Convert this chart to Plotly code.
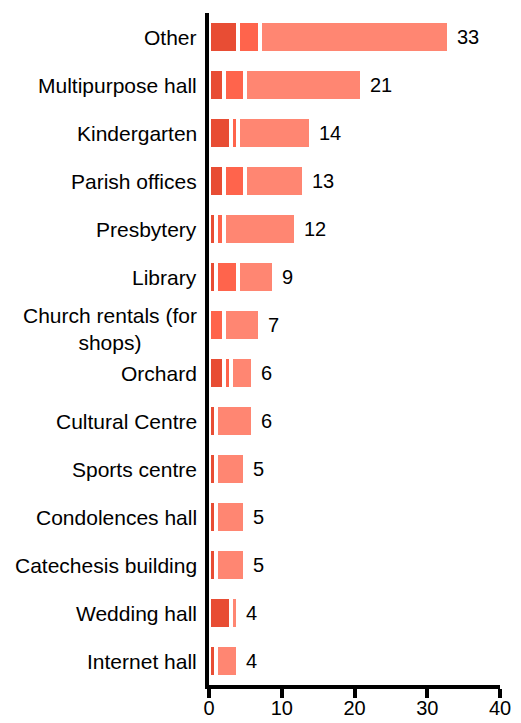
import plotly.graph_objects as go

# facility counts, split into three shades (dark / mid / light)
categories = [
    "Other",
    "Multipurpose hall",
    "Kindergarten",
    "Parish offices",
    "Presbytery",
    "Library",
    "Church rentals (for<br>shops)",
    "Orchard",
    "Cultural Centre",
    "Sports centre",
    "Condolences hall",
    "Catechesis building",
    "Wedding hall",
    "Internet hall",
]
dark = [4, 2, 3, 2, 1, 1, 0, 2, 1, 1, 1, 1, 3, 1]
mid = [3, 3, 1, 3, 1, 3, 2, 1, 0, 0, 0, 0, 0, 0]
light = [26, 16, 10, 8, 10, 5, 5, 3, 5, 4, 4, 4, 1, 3]
totals = [d + m + l for d, m, l in zip(dark, mid, light)]

colors = ["#e84d34", "#ff644c", "#ff8672"]
font = "Liberation Sans, Arial, sans-serif"

fig = go.Figure()
for vals, col in zip([dark, mid, light], colors):
    fig.add_trace(
        go.Bar(
            x=vals,
            y=categories,
            orientation="h",
            marker=dict(color=col, line=dict(color="white", width=4)),
            showlegend=False,
            hoverinfo="x+y",
        )
    )

annotations = []
# category labels as annotations so wrapped lines stay centred
for cat in categories:
    annotations.append(
        dict(
            x=0, y=cat, xref="x", yref="y", text=cat, showarrow=False,
            xanchor="right", xshift=-10, align="center",
            yshift=-4 if "<br>" in cat else 0,
            font=dict(family=font, size=21, color="black"),
        )
    )
# totals at the bar ends
for cat, tot in zip(categories, totals):
    annotations.append(
        dict(
            x=tot, y=cat, xref="x", yref="y", text=str(tot), showarrow=False,
            xanchor="left", xshift=6,
            font=dict(family=font, size=20, color="black"),
        )
    )

# page body keeps an 8px margin, so the figure is 8px smaller than the window
fig.update_layout(
    width=513,
    height=715,
    margin=dict(l=201, r=21, t=5, b=38),
    barmode="stack",
    bargap=0.335,
    plot_bgcolor="white",
    paper_bgcolor="white",
    font=dict(family=font, size=20, color="black"),
    annotations=annotations,
)
fig.update_xaxes(
    range=[0, 40],
    dtick=10,
    showgrid=False,
    zeroline=False,
    showline=True,
    linecolor="black",
    linewidth=4,
    ticks="outside",
    ticklen=9,
    tickwidth=4,
    tickcolor="black",
    tickfont=dict(family=font, size=20, color="black"),
    ticklabelstandoff=-7,
    automargin=False,
)
fig.update_yaxes(
    range=[13.5, -0.5],
    showgrid=False,
    zeroline=False,
    showline=True,
    linecolor="black",
    linewidth=4,
    showticklabels=False,
    ticks="",
    automargin=False,
)

fig.write_html("out.html")
